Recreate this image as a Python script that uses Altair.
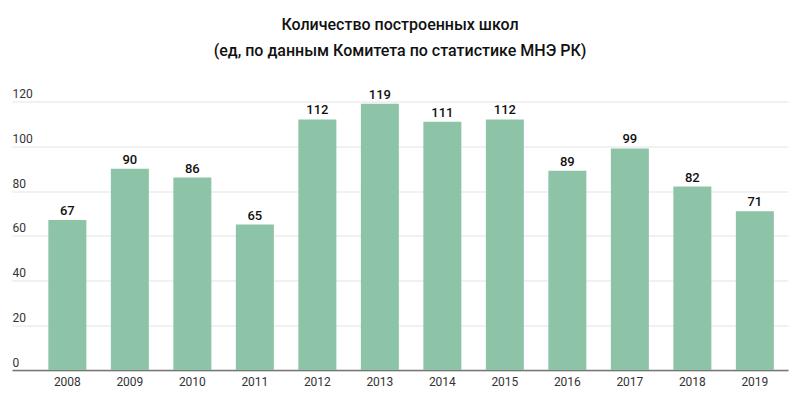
import altair as alt
import pandas as pd

years = ["2008", "2009", "2010", "2011", "2012", "2013", "2014", "2015", "2016", "2017", "2018", "2019"]
values = [67, 90, 86, 65, 112, 119, 111, 112, 89, 99, 82, 71]
title_lines = ["Количество построенных школ", "(ед, по данным Комитета по статистике МНЭ РК)"]
y_ticks = [0, 20, 40, 60, 80, 100, 120]

df = pd.DataFrame({"year": years, "value": values})

x = alt.X("year:N", sort=years, title=None,
          scale=alt.Scale(paddingInner=0.392, paddingOuter=0.404, align=0.72),
          axis=alt.Axis(labelAngle=0, labelFont="Roboto", labelFontSize=12, labelColor="#333333",
                        labelPadding=6, ticks=False, domain=True, domainColor="#777777",
                        domainWidth=1.5, grid=False))
y = alt.Y("value:Q", title=None,
          scale=alt.Scale(domain=[0, 120], nice=False, zero=True),
          axis=alt.Axis(values=y_ticks, orient="left", labelAlign="left", labelBaseline="alphabetic",
                        labelOffset=-4, labelPadding=0, tickSize=0, ticks=False, domain=False,
                        grid=True, gridColor="#e3e3e3", gridWidth=1,
                        labelFont="Roboto", labelFontSize=12, labelColor="#333333"))

bars = alt.Chart(df).mark_bar(color="#8dc3a7").encode(x=x, y=y)
labels = alt.Chart(df).mark_text(baseline="alphabetic", dy=-5, font="Roboto", fontSize=13,
                                 fontWeight=500, color="#111111").encode(
    x=alt.X("year:N", sort=years), y="value:Q", text="value:Q")

chart = (bars + labels).properties(
    width=776, height=268.5,
    autosize=alt.AutoSizeParams(type="none"),
    padding={"left": 4, "top": 93.5, "right": 4, "bottom": 20},
    title=alt.TitleParams(text=title_lines, font="Roboto", fontSize=16, fontWeight=500,
                          color="#111111", anchor="middle", offset=29, lineHeight=26),
).configure_view(stroke=None)

chart.save("out.html", embed_options={"renderer": "svg", "actions": False})
